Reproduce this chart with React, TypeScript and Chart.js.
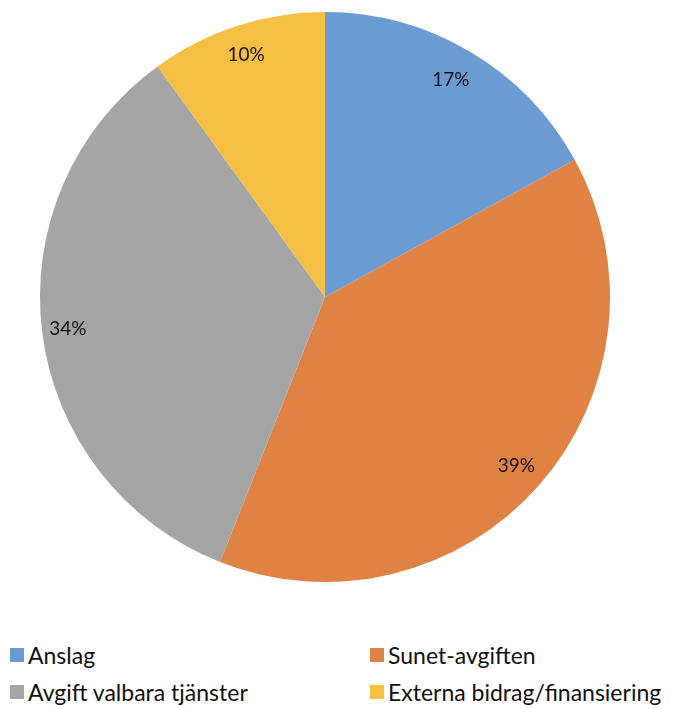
import React, { useEffect, useRef } from "react";
import { Chart, registerables } from "chart.js";

Chart.register(...registerables);

const categories: string[] = ["Anslag", "Sunet-avgiften", "Avgift valbara tjänster", "Externa bidrag/finansiering"];
const values: number[] = [17, 39, 34, 10];
const colors: string[] = ["#6A9BD3", "#E08244", "#A5A5A5", "#F5BF41"];
const labelFont = "Lato, 'Open Sans', sans-serif";

const pctLabels = {
  id: "pctLabels",
  afterDatasetsDraw(chart: any) {
    const ctx = chart.ctx;
    const meta = chart.getDatasetMeta(0);
    const total = values.reduce((a, b) => a + b, 0);
    ctx.save();
    ctx.font = `19px ${labelFont}`;
    ctx.fillStyle = "#111111";
    ctx.textAlign = "center";
    ctx.textBaseline = "middle";
    meta.data.forEach((arc: any, i: number) => {
      const { x, y, startAngle, endAngle, outerRadius } = arc.getProps(["x", "y", "startAngle", "endAngle", "outerRadius"], true);
      const mid = (startAngle + endAngle) / 2;
      const r = outerRadius * 0.895;
      const pct = Math.round((values[i] / total) * 100);
      ctx.fillText(`${pct}%`, x + Math.cos(mid) * r - (i === 0 || i === 2 ? 4 : 0), y + Math.sin(mid) * r + (i === 0 ? 2 : 0));
    });
    ctx.restore();
  },
};

export default function App() {
  const ref = useRef<HTMLCanvasElement | null>(null);
  useEffect(() => {
    if (!ref.current) return;
    const chart = new Chart(ref.current, {
      type: "pie",
      data: {
        labels: categories,
        datasets: [{ data: values, backgroundColor: colors, borderWidth: 0 }],
      },
      options: {
        animation: false,
        responsive: true,
        maintainAspectRatio: false,
        layout: { padding: 4 },
        plugins: { legend: { display: false }, tooltip: { enabled: false } },
      },
      plugins: [pctLabels],
    });
    return () => chart.destroy();
  }, []);

  const legendPos = [
    { left: 2, top: 634 },
    { left: 362, top: 634 },
    { left: 2, top: 671 },
    { left: 362, top: 671 },
  ];

  return (
    <div style={{ position: "relative", width: 661, height: 701 }}>
      <div style={{ position: "absolute", left: 0, top: 0, width: 634, height: 578 }}>
        <canvas ref={ref} />
      </div>
      {categories.map((c, i) => (
        <div
          key={c}
          style={{
            position: "absolute",
            left: legendPos[i].left,
            top: legendPos[i].top,
            display: "flex",
            alignItems: "center",
            fontFamily: labelFont,
            fontSize: 23,
            color: "#111",
            whiteSpace: "nowrap",
            height: 26,
            lineHeight: "26px",
          }}
        >
          <span style={{ display: "inline-block", width: 14, height: 14, background: colors[i], marginRight: 4 }} />
          <span>{c}</span>
        </div>
      ))}
    </div>
  );
}
